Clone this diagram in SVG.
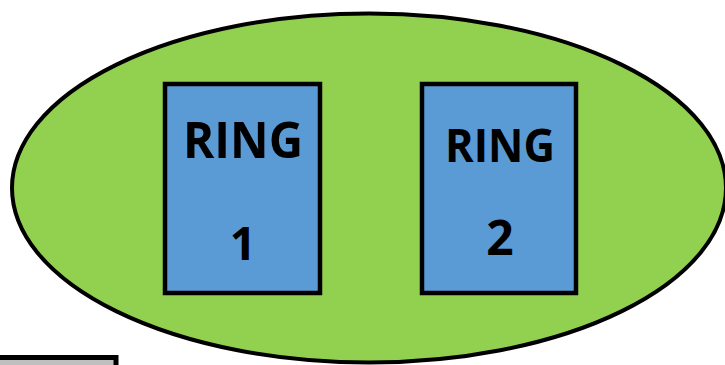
<svg xmlns="http://www.w3.org/2000/svg" width="725" height="365" viewBox="0 0 725 365">
<style>
.shape{stroke:#000;stroke-width:4}
.ring{fill:#5b9bd5;stroke:#000;stroke-width:4.5}
.lbl{font-family:"Open Sans","Liberation Sans",sans-serif;font-weight:bold;fill:#000;text-anchor:middle}
</style>
<rect width="725" height="365" fill="#fff"/>
<g id="cluster">
<ellipse class="shape" cx="369" cy="188" rx="357" ry="174.5" fill="#92d050"/>
</g>
<g id="ring1">
<rect class="ring" x="165" y="84" width="155" height="209"/>
<text class="lbl" x="243" y="158" font-size="50" textLength="120" lengthAdjust="spacingAndGlyphs">RING</text>
<text class="lbl" x="243" y="260" font-size="46">1</text>
</g>
<g id="ring2">
<rect class="ring" x="422" y="84" width="154" height="209"/>
<text class="lbl" x="500" y="162" font-size="47" textLength="110" lengthAdjust="spacingAndGlyphs">RING</text>
<text class="lbl" x="500" y="255" font-size="48">2</text>
</g>
<g id="box">
<rect x="-10" y="357.5" width="126" height="20" fill="#bfbfbf" stroke="#000" stroke-width="5"/>
</g>
<g id="connectors"></g>
</svg>
